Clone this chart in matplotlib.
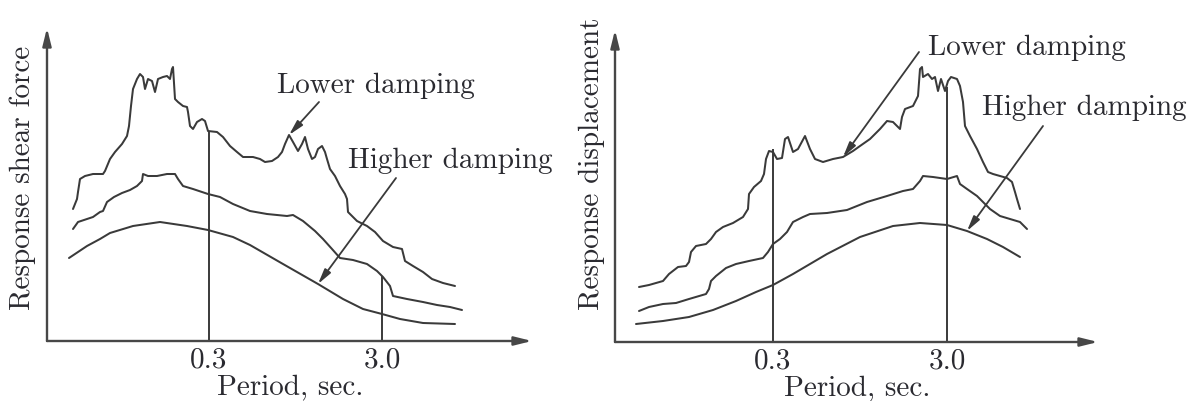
import matplotlib
matplotlib.use('Agg')
import matplotlib.pyplot as plt

# ---------------- data (schematic units: x = log-period scale, y = response) ----------------
# Left panel: response shear force
L_low_x = [26, 30, 31, 33, 38, 46, 56, 58, 63, 68, 75, 80, 82, 84, 86, 90, 93, 96, 98, 101,
           105, 108, 111, 116, 120, 123, 125, 126, 128, 131, 136, 140, 141, 143, 146, 150, 155,
           158, 161, 170, 176, 183, 190, 196, 206, 213, 218, 225, 231, 235, 238, 242, 246, 251,
           255, 258, 261, 265, 268, 271, 275, 278, 280, 283, 288, 293, 298, 300, 301, 310, 320,
           328, 336, 346, 355, 358, 366, 376, 385, 396, 408]
L_low_y = [132, 142, 149, 162, 165, 167, 167, 170, 182, 189, 197, 205, 215, 235, 252, 262, 267,
           264, 252, 262, 260, 249, 262, 264, 265, 262, 272, 274, 242, 239, 235, 234, 229, 215,
           212, 219, 222, 220, 210, 209, 204, 195, 189, 184, 184, 182, 179, 180, 184, 189, 197,
           206, 199, 190, 197, 204, 192, 182, 184, 192, 195, 189, 182, 172, 165, 155, 147, 142,
           129, 120, 115, 109, 100, 94, 92, 80, 75, 69, 62, 58, 55]
L_high_x = [26, 31, 46, 53, 56, 60, 67, 75, 83, 90, 95, 96, 101, 110, 120, 128, 131, 136, 146,
            161, 173, 186, 203, 220, 240, 246, 256, 268, 276, 285, 293, 306, 320, 330, 336, 343,
            346, 360, 376, 390, 403, 415]
L_high_y = [112, 119, 124, 129, 130, 139, 144, 148, 151, 155, 160, 167, 165, 165, 167, 167, 162,
            155, 152, 147, 144, 137, 130, 127, 125, 126, 120, 110, 102, 92, 83, 81, 77, 70, 64,
            55, 45, 42, 39, 36, 34, 31]
L_smooth_x = [22, 40, 53, 63, 86, 113, 140, 161, 186, 203, 236, 271, 296, 316, 335, 353, 376, 408]
L_smooth_y = [83, 95, 102, 108, 115, 119, 115, 111, 104, 96, 77, 57, 42, 32, 27, 22, 18, 17]

# Right panel: response displacement
R_low_x = [24, 34, 48, 54, 63, 71, 74, 76, 81, 91, 96, 101, 108, 118, 128, 133, 134, 139, 146,
           149, 151, 154, 158, 162, 167, 170, 173, 178, 183, 190, 195, 200, 208, 218, 228, 238,
           245, 255, 265, 272, 278, 285, 287, 290, 298, 303, 305, 307, 308, 313, 317, 320, 323,
           326, 330, 333, 336, 342, 345, 348, 350, 355, 362, 368, 373, 378, 385, 392, 397, 400,
           402, 405]
R_low_y = [55, 57, 61, 68, 75, 76, 80, 90, 96, 98, 103, 110, 115, 119, 125, 133, 148, 155, 161,
           168, 183, 191, 190, 183, 184, 203, 205, 190, 193, 206, 193, 183, 180, 183, 185, 191,
           196, 203, 213, 221, 220, 213, 225, 233, 236, 246, 273, 275, 265, 268, 263, 265, 251,
           263, 251, 261, 265, 263, 256, 240, 216, 206, 193, 180, 170, 168, 166, 164, 160, 150,
           143, 133]
R_high_x = [24, 34, 48, 61, 74, 91, 94, 96, 101, 111, 121, 134, 148, 153, 158, 165, 172, 178,
            188, 195, 212, 232, 252, 272, 288, 298, 305, 308, 318, 332, 342, 345, 352, 362, 368,
            375, 385, 395, 405, 412]
R_high_y = [31, 35, 38, 39, 43, 48, 53, 61, 66, 74, 78, 81, 84, 90, 98, 103, 110, 120, 125, 128,
            129, 132, 140, 146, 151, 153, 161, 166, 165, 163, 166, 158, 153, 146, 140, 133, 126,
            123, 120, 113]
R_smooth_x = [21, 48, 74, 98, 121, 141, 158, 178, 212, 245, 278, 305, 332, 352, 372, 388, 405]
R_smooth_y = [18, 21, 25, 32, 41, 50, 57, 68, 88, 105, 116, 119, 117, 111, 103, 95, 85]

# period marks (0.3 s and 3.0 s) and the heights where the guide lines stop
tick_labels = ['0.3', '3.0']
L_tick_x = [162, 335]
L_tick_top = [210, 65]
R_tick_x = [158, 332.5]
R_tick_top = [193, 255]

# annotations: (text, text x, text baseline y, arrow start, arrow tip)
note_texts = ['Lower damping', 'Higher damping']
L_note_xy = [(230, 249), (301, 174)]
L_arrow_from = [(272, 239), (349, 163)]
L_arrow_to = [(242, 206), (271, 57)]
R_note_xy = [(313, 288), (367, 228)]
R_arrow_from = [(304, 290), (428, 216)]
R_arrow_to = [(228, 185), (352, 111)]

# ---------------- style ----------------
plt.rcParams['font.family'] = ['cmr10', 'DejaVu Serif']
plt.rcParams['axes.unicode_minus'] = False
FS = 21
INK = '#3a3a3a'
AXC = '#474747'
TXT = '#2a2a30'
W, H = 1193, 402

fig = plt.figure(figsize=(W / 100, H / 100), dpi=100)


def panel(x0, y0, xmax, ymax, curves, tick_x, tick_top, ylabel, ylab_pos,
          note_xy, arr_from, arr_to):
    ax = fig.add_axes([x0 / W, (H - y0) / H, xmax / W, ymax / H])
    ax.set_xlim(0, xmax)
    ax.set_ylim(0, ymax)
    for s in ax.spines.values():
        s.set_visible(False)
    ax.patch.set_visible(False)
    # axes with arrow heads
    axis_arrow = dict(arrowstyle='-|>,head_length=1.05,head_width=0.26', lw=1.7,
                      color=AXC, shrinkA=0, shrinkB=0, mutation_scale=10)
    ax.annotate('', xy=(xmax, 0), xytext=(0, 0), arrowprops=axis_arrow,
                annotation_clip=False)
    ax.annotate('', xy=(0, ymax), xytext=(0, 0), arrowprops=axis_arrow,
                annotation_clip=False)
    for cx, cy in curves:
        ax.plot(cx, cy, color=INK, lw=1.45, solid_joinstyle='round',
                solid_capstyle='round', clip_on=False)
    ax.vlines(tick_x, 0, tick_top, color=INK, lw=1.4)
    ax.set_xticks(tick_x, tick_labels)
    ax.set_yticks([])
    ax.tick_params(axis='x', length=0, pad=3.5, labelsize=FS, labelcolor=TXT)
    ax.set_xlabel('Period, sec.', fontsize=FS, color=TXT, va='center')
    ax.xaxis.set_label_coords(0.502, -46 / ymax)
    ax.set_ylabel(ylabel, fontsize=FS, color=TXT, va='center')
    ax.yaxis.set_label_coords(*ylab_pos)
    for t, (tx, ty), af, at in zip(note_texts, note_xy, arr_from, arr_to):
        ax.text(tx, ty, t, fontsize=FS, color=TXT, va='baseline', ha='left', clip_on=False)
        ax.annotate('', xy=at, xytext=af,
                    arrowprops=dict(arrowstyle='-|>,head_length=0.9,head_width=0.22',
                                    lw=1.3, color=INK, shrinkA=0, shrinkB=0,
                                    mutation_scale=10),
                    annotation_clip=False)
    return ax


panel(47, 342, 485, 313,
      [(L_low_x, L_low_y), (L_high_x, L_high_y), (L_smooth_x, L_smooth_y)],
      L_tick_x, L_tick_top, 'Response shear force', (-0.049, 0.524),
      L_note_xy, L_arrow_from, L_arrow_to)
panel(615, 343, 483, 312,
      [(R_low_x, R_low_y), (R_high_x, R_high_y), (R_smooth_x, R_smooth_y)],
      R_tick_x, R_tick_top, 'Response displacement', (-0.048, 0.574),
      R_note_xy, R_arrow_from, R_arrow_to)

fig.savefig('out.png', dpi=100, facecolor='white')
